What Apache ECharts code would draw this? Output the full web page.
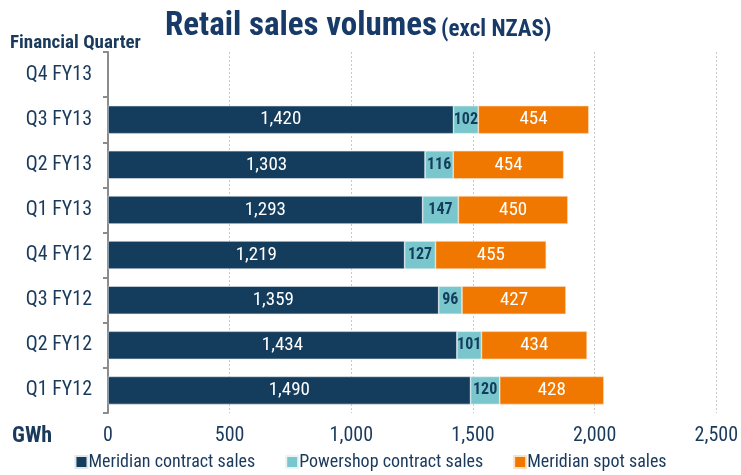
<!DOCTYPE html>
<html><head><meta charset="utf-8">
<script src="https://cdn.jsdelivr.net/npm/echarts@6/dist/echarts.min.js"></script>
<style>html,body{margin:0;padding:0;background:#fff}#c{width:741px;height:475px}</style>
</head><body><div id="c"></div>
<script>
const categories = ['Q1 FY12','Q2 FY12','Q3 FY12','Q4 FY12','Q1 FY13','Q2 FY13','Q3 FY13','Q4 FY13'];
const meridianContract = [1490,1434,1359,1219,1293,1303,1420,null];
const powershopContract = [120,101,96,127,147,116,102,null];
const meridianSpot = [428,434,427,455,450,454,454,null];
const xTicks = [0,500,1000,1500,2000,2500];

const FONT = '"Roboto Condensed","Liberation Sans Narrow","Arial Narrow",sans-serif';
const NAVY = '#1a3a5c';
const chart = echarts.init(document.getElementById('c'), null, {renderer:'canvas'});
const fmt = p => p.value == null ? '' : p.value.toLocaleString('en-US');
chart.setOption({
  animation:false,
  textStyle:{fontFamily:FONT},
  title:{
    text:'{a|Retail sales volumes} {b|(excl NZAS)}',
    left:160, top:5,
    textStyle:{rich:{
      a:{fontFamily:FONT,fontSize:33,fontWeight:'bold',color:'#173a68'},
      b:{fontFamily:FONT,fontSize:23,fontWeight:'bold',color:'#173a68',padding:[7,0,0,0]}
    }}
  },
  graphic:[
    {type:'text',left:10,top:34,style:{text:'Financial Quarter',font:'bold 19px '+FONT,fill:NAVY}},
    {type:'text',left:12,top:425,style:{text:'GWh',font:'bold 22px '+FONT,fill:NAVY}}
  ],
  legend:{
    bottom:-1,left:'center',itemWidth:12,itemHeight:12,itemGap:30,
    icon:'rect',
    textStyle:{fontFamily:FONT,fontSize:18,color:NAVY,padding:[0,0,0,-4]},
    data:['Meridian contract sales','Powershop contract sales','Meridian spot sales']
  },
  grid:{left:108,right:23,top:52,bottom:62,containLabel:false},
  xAxis:{
    type:'value',min:0,max:2500,interval:500,
    axisLine:{show:false},axisTick:{show:false},
    splitLine:{show:true,lineStyle:{color:'#c8c8c8',type:[2,2],width:1}},
    axisLabel:{fontFamily:FONT,fontSize:20,color:NAVY,margin:13,
      formatter:v=>xTicks.includes(v)?v.toLocaleString('en-US'):''}
  },
  yAxis:{
    type:'category',data:categories,
    axisLine:{show:true,lineStyle:{color:'#8c8c8c',width:2}},
    axisTick:{show:true,length:5,lineStyle:{color:'#8c8c8c',width:2}},
    axisLabel:{fontFamily:FONT,fontSize:20,color:NAVY,margin:16}
  },
  series:[
    {name:'Meridian contract sales',type:'bar',stack:'s',data:meridianContract,barWidth:28,
     itemStyle:{color:'#143c5c',borderColor:'#dfe6ec',borderWidth:0.6},
     label:{show:true,position:'inside',formatter:fmt,fontFamily:FONT,fontSize:19,color:'#fff'}},
    {name:'Powershop contract sales',type:'bar',stack:'s',data:powershopContract,
     itemStyle:{color:'#79c7cc',borderColor:'#e8f4f5',borderWidth:0.6},
     label:{show:true,position:'inside',formatter:fmt,fontFamily:FONT,fontSize:16,fontWeight:'bold',color:'#143c5c'}},
    {name:'Meridian spot sales',type:'bar',stack:'s',data:meridianSpot,
     itemStyle:{color:'#f07800',borderColor:'#fbe0c4',borderWidth:0.6},
     label:{show:true,position:'inside',formatter:fmt,fontFamily:FONT,fontSize:19,color:'#fff'}}
  ]
});
</script></body></html>
